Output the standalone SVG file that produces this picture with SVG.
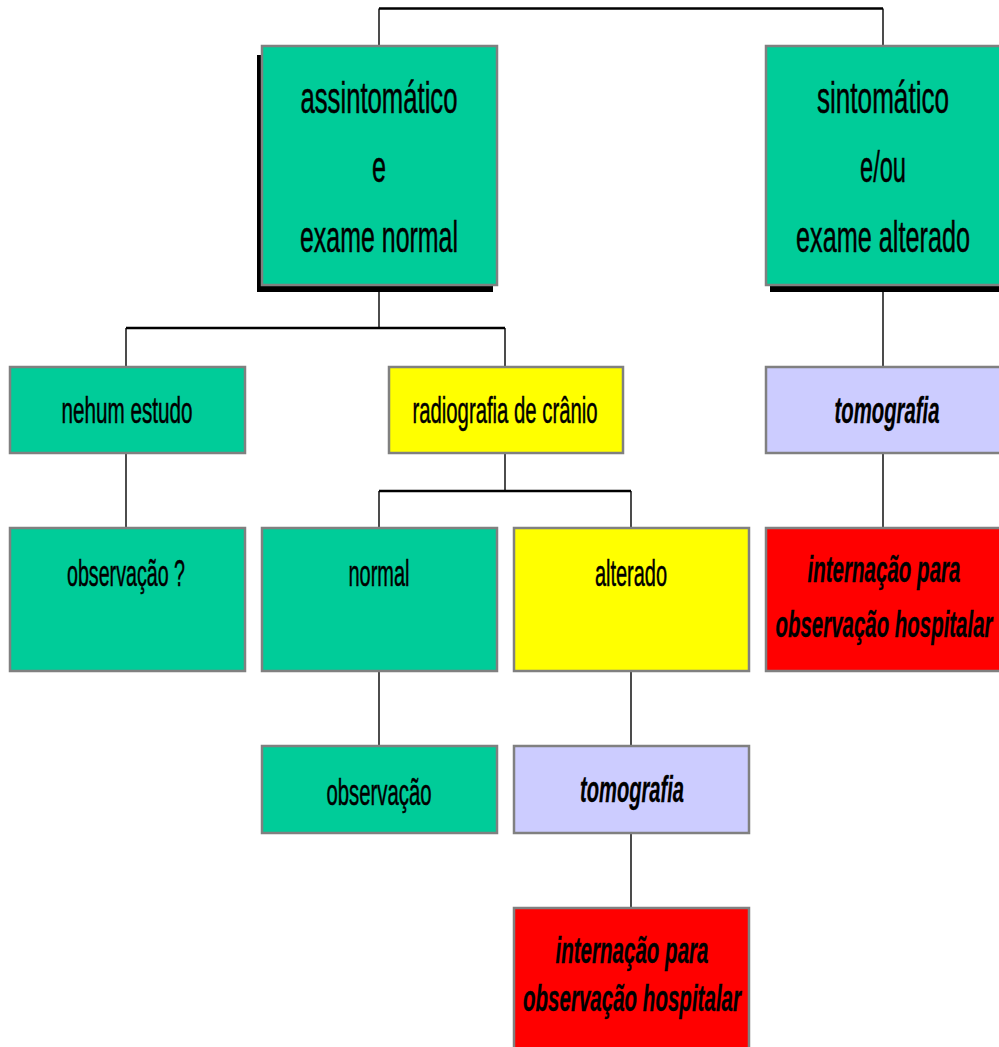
<svg xmlns="http://www.w3.org/2000/svg" width="999" height="1047" viewBox="0 0 999 1047">
  <style>
    .box { stroke: #808080; stroke-width: 2.5; }
    .green { fill: #00CC99; }
    .yellow { fill: #FFFF00; }
    .lilac { fill: #CCCCFF; }
    .red { fill: #FF0000; }
    .shadow { fill: #000000; }
    .t { font-family: "Liberation Sans", Arial, sans-serif; fill: #000000; text-anchor: middle; stroke: #000000; stroke-width: 0.5; }
    .big { font-size: 44px; }
    .mid { font-size: 36px; }
    .bi { font-weight: bold; font-style: italic; stroke-width: 0.3; }
    .h { stroke: #000000; stroke-width: 2.6; fill: none; }
    .v { stroke: #000000; stroke-width: 1.4; fill: none; }
  </style>
  <rect width="999" height="1047" fill="#FFFFFF"/>

  <!-- connectors -->
  <g id="connectors">
    <path class="h" d="M379 8.5 H883"/>
    <path class="v" d="M379 8.5 V46 M883 8.5 V46"/>
    <path class="v" d="M379 285 V328"/>
    <path class="h" d="M126 328 H505"/>
    <path class="v" d="M126 328 V367 M505 328 V367"/>
    <path class="v" d="M126 453 V528"/>
    <path class="v" d="M505 453 V491"/>
    <path class="h" d="M379 491 H631"/>
    <path class="v" d="M379 491 V528 M631 491 V528"/>
    <path class="v" d="M379 671 V746"/>
    <path class="v" d="M631 671 V746 M631 833 V908"/>
    <path class="v" d="M883 285 V367 M883 453 V528"/>
  </g>

  <!-- asymptomatic branch -->
  <g id="assintomatico">
    <rect class="shadow" x="257" y="55" width="236" height="237"/>
    <rect class="box green" x="262" y="46" width="235" height="239"/>
    <text class="t big" x="379" y="113" textLength="157" lengthAdjust="spacingAndGlyphs">assintomático</text>
    <text class="t big" x="379" y="182" textLength="14" lengthAdjust="spacingAndGlyphs">e</text>
    <text class="t big" x="379" y="252" textLength="158" lengthAdjust="spacingAndGlyphs">exame normal</text>
  </g>

  <!-- symptomatic branch -->
  <g id="sintomatico">
    <rect class="shadow" x="770" y="55" width="232" height="237"/>
    <rect class="box green" x="766" y="46" width="235" height="239"/>
    <text class="t big" x="883" y="113" textLength="132" lengthAdjust="spacingAndGlyphs">sintomático</text>
    <text class="t big" x="883" y="182" textLength="46" lengthAdjust="spacingAndGlyphs">e/ou</text>
    <text class="t big" x="883" y="252" textLength="174" lengthAdjust="spacingAndGlyphs">exame alterado</text>
  </g>

  <g id="nehum-estudo">
    <rect class="box green" x="10" y="367" width="235" height="86"/>
    <text class="t mid" x="127" y="423" textLength="131" lengthAdjust="spacingAndGlyphs">nehum estudo</text>
  </g>

  <g id="radiografia">
    <rect class="box yellow" x="389" y="367" width="234" height="86"/>
    <text class="t mid" x="505" y="423" textLength="185" lengthAdjust="spacingAndGlyphs">radiografia de crânio</text>
  </g>

  <g id="tomografia-direta">
    <rect class="box lilac" x="766" y="367" width="235" height="86"/>
    <text class="t mid bi" x="887" y="423" textLength="105" lengthAdjust="spacingAndGlyphs">tomografia</text>
  </g>

  <g id="observacao-duvida">
    <rect class="box green" x="10" y="528" width="235" height="143"/>
    <text class="t mid" x="126" y="586" textLength="118" lengthAdjust="spacingAndGlyphs">observação ?</text>
  </g>

  <g id="rx-normal">
    <rect class="box green" x="262" y="528" width="235" height="143"/>
    <text class="t mid" x="379" y="586" textLength="61" lengthAdjust="spacingAndGlyphs">normal</text>
  </g>

  <g id="rx-alterado">
    <rect class="box yellow" x="514" y="528" width="235" height="143"/>
    <text class="t mid" x="631" y="586" textLength="72" lengthAdjust="spacingAndGlyphs">alterado</text>
  </g>

  <g id="internacao-direta">
    <rect class="box red" x="766" y="528" width="235" height="143"/>
    <text class="t mid bi" x="884" y="582" textLength="153" lengthAdjust="spacingAndGlyphs">internação para</text>
    <text class="t mid bi" x="884" y="637" textLength="217" lengthAdjust="spacingAndGlyphs">observação hospitalar</text>
  </g>

  <g id="observacao">
    <rect class="box green" x="262" y="746" width="235" height="87"/>
    <text class="t mid" x="379" y="805" textLength="105" lengthAdjust="spacingAndGlyphs">observação</text>
  </g>

  <g id="tomografia">
    <rect class="box lilac" x="514" y="746" width="235" height="87"/>
    <text class="t mid bi" x="632" y="802" textLength="104" lengthAdjust="spacingAndGlyphs">tomografia</text>
  </g>

  <g id="internacao">
    <rect class="box red" x="514" y="908" width="235" height="150"/>
    <text class="t mid bi" x="632" y="963" textLength="153" lengthAdjust="spacingAndGlyphs">internação para</text>
    <text class="t mid bi" x="632" y="1011" textLength="218" lengthAdjust="spacingAndGlyphs">observação hospitalar</text>
  </g>
</svg>
